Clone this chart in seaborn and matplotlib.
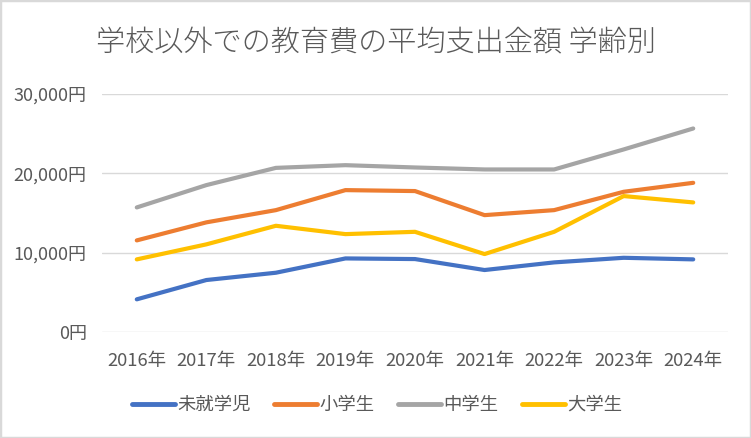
import matplotlib
matplotlib.use("Agg")
import matplotlib.pyplot as plt
import matplotlib.patches as mpatches
import seaborn as sns
import pandas as pd

years = ["2016年", "2017年", "2018年", "2019年", "2020年", "2021年", "2022年", "2023年", "2024年"]
series_names = ["未就学児", "小学生", "中学生", "大学生"]
preschool = [4150, 6580, 7500, 9300, 9220, 7840, 8800, 9380, 9180]
elementary = [11570, 13840, 15380, 17900, 17780, 14750, 15380, 17690, 18820]
junior_high = [15720, 18530, 20700, 21040, 20750, 20500, 20500, 23020, 25660]
university = [9180, 11070, 13410, 12360, 12650, 9850, 12650, 17150, 16350]
y_ticks = [0, 10000, 20000, 30000]
y_tick_labels = ["0円", "10,000円", "20,000円", "30,000円"]
title = "学校以外での教育費の平均支出金額 学齢別"

colors = ["#4472C4", "#ED7D31", "#A5A5A5", "#FFC000"]
text_color = "#595959"

sns.set_theme(style="white")
plt.rcParams["font.family"] = ["Noto Sans CJK JP", "DejaVu Sans"]

rows = []
for name, vals in zip(series_names, [preschool, elementary, junior_high, university]):
    for i, (y, v) in enumerate(zip(years, vals)):
        rows.append({"idx": i, "year": y, "series": name, "value": v})
df = pd.DataFrame(rows)

fig = plt.figure(figsize=(7.51, 4.38), dpi=100)
ax = fig.add_axes([102/751, 1-332.3/438, (728-102)/751, (332.3-94)/438])

sns.lineplot(data=df, x="idx", y="value", hue="series", hue_order=series_names,
             palette=colors, linewidth=3.0, ax=ax, legend=False,
             solid_capstyle="round", solid_joinstyle="round")

ax.set_xlim(-0.5, len(years) - 0.5)
ax.set_ylim(0, 30000)
ax.set_xticks(range(len(years)))
ax.set_xticklabels(years, fontsize=13.3, color=text_color)
ax.set_yticks(y_ticks)
ax.set_yticklabels(y_tick_labels, fontsize=13, color=text_color)
ax.tick_params(axis="both", length=0)
ax.tick_params(axis="x", pad=14)
ax.tick_params(axis="y", pad=11)
ax.set_xlabel("")
ax.set_ylabel("")
ax.grid(axis="y", color="#D9D9D9", linewidth=1.0)
ax.set_axisbelow(True)
for s in ax.spines.values():
    s.set_visible(False)

fig.text(376/751, 1-43/438, title, ha="center", va="center", fontsize=21, color=text_color,
         fontweight="light")

handles = [plt.Line2D([0], [0], color=c, linewidth=3.5, solid_capstyle="round") for c in colors]
fig.legend(handles, series_names, loc="center", bbox_to_anchor=(377/751, 1-405/438), ncol=4,
           frameon=False, fontsize=13.2, handlelength=2.35, handletextpad=0.15, columnspacing=1.25,
           labelcolor=text_color)

fig.patches.append(mpatches.Rectangle((0, 0), 1, 1, transform=fig.transFigure, fill=False,
                                      edgecolor="#D9D9D9", linewidth=2.5))

fig.savefig("out.png", dpi=100)
